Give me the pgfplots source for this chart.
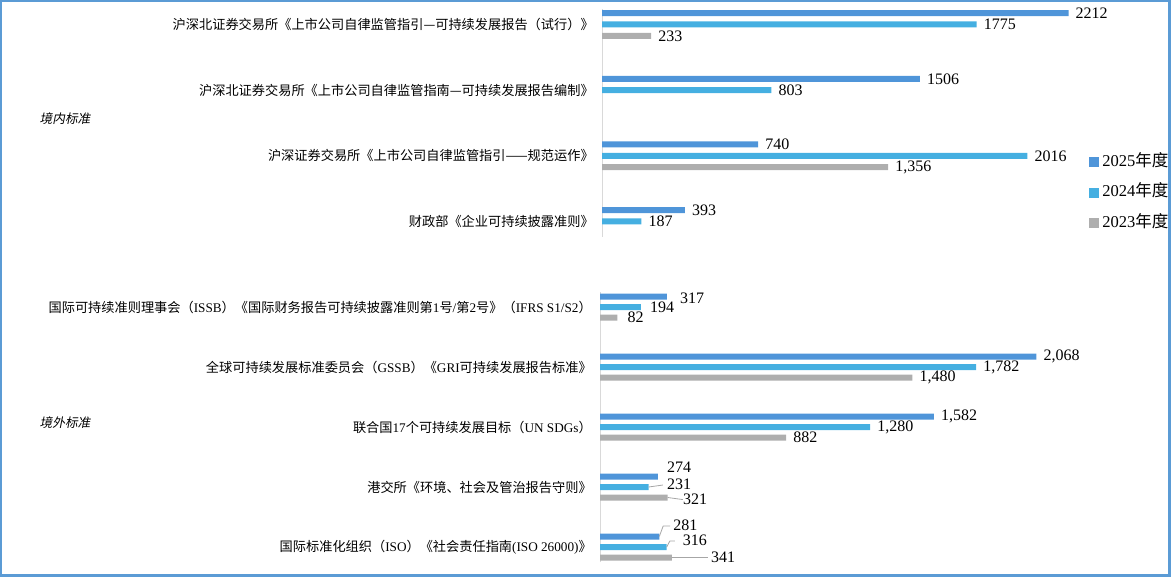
\documentclass[border=0pt]{standalone}
\usepackage{fontspec}
\setmainfont{Liberation Serif}
\newfontfamily\cjk{Noto Sans CJK SC}
\newfontfamily\cjkit[FakeSlant=0.2]{Noto Sans CJK SC}
\usepackage{pgfplots}
\usepackage{pgfplotstable}
\pgfplotsset{compat=1.18}
\newcommand\C[1]{{\cjk #1}}
\definecolor{c25}{RGB}{79,149,217}
\definecolor{c24}{RGB}{69,175,225}
\definecolor{c23}{RGB}{174,174,174}
\definecolor{frame}{RGB}{91,155,213}
\definecolor{axgray}{RGB}{217,217,217}
\definecolor{leader}{RGB}{166,166,166}

% top group: y=4 first category ... y=1 last
\pgfplotstableread{
x y lab dx dy
2212 4 2212 5.0 0
1506 3 1506 5.25 0
740 2 740 5.25 0
393 1 393 5.25 0
}\topA
\pgfplotstableread{
x y lab dx dy
1775 4 1775 5.25 0
803 3 803 5.25 0
2016 2 2016 5.25 0
187 1 187 5.25 0
}\topB
\pgfplotstableread{
x y lab dx dy
233 4 233 5.25 0
1356 2 1,356 5.25 0
}\topC
% bottom group: ISSB=5, GSSB=4, UN=3, HKEX=2, ISO=1
\pgfplotstableread{
x y lab dx dy
317 5 317 9.75 -1.2
2068 4 2,068 5.25 0
1582 3 1,582 5.25 0
274 2 274 6.75 7.1
281 1 281 10.3 8.6
}\botA
\pgfplotstableread{
x y lab dx dy
194 5 194 6.75 0
1782 4 1,782 5.25 0
1280 3 1,280 5.25 0
231 2 231 13.5 2.0
316 1 316 12 5.25
}\botB
\pgfplotstableread{
x y lab dx dy
82 5 82 7.5 0
1480 4 1,480 5.25 0
882 3 882 5.25 0
321 2 321 11.25 -1.2
341 1 341 29.25 0
}\botC

\pgfplotsset{
  mybars/.style={xbar, bar width=4.5pt, draw=none,
    legend image code/.code={\fill[##1,draw=none] (0pt,-3.75pt) rectangle (7.5pt,3.75pt);},
    nodes near coords, nodes near coords align={horizontal},
    point meta=explicit symbolic,
    visualization depends on={\thisrow{dx} \as \dx},
    visualization depends on={\thisrow{dy} \as \dy},
    every node near coord/.append style={anchor=west, inner sep=0pt,
      xshift=\dx pt, yshift=\dy pt, text=black,
      font=\fontsize{12pt}{13pt}\selectfont}},
  lshift/.style={bar shift=#1, every node near coord/.append style={yshift=#1}},
  myaxis/.style={scale only axis, width=411.45pt,
    xmin=0, xmax=2600, clip=false,
    axis x line=none, axis y line=left,
    y axis line style={-, draw=axgray, line width=0.75pt},
    major tick length=0pt, ytick style={draw=none},
    yticklabel style={font=\fontsize{9.9pt}{11pt}\selectfont, inner sep=0pt, xshift=-6pt, text=black},
    anchor=south west},
}

\begin{document}
\begin{tikzpicture}
\useasboundingbox (0pt,0pt) rectangle (879.75pt,433.5pt);
\draw[frame, line width=1.9pt] (0.75pt,1.9pt) rectangle (877.1pt,432.75pt);

\begin{axis}[myaxis, at={(451.5pt,255.75pt)}, height=171pt,
  ymin=0.764, ymax=4.236, ytick={1,2,3,4},
  yticklabels={
    {\C{财政部《企业可持续披露准则》}},
    {\C{沪深证券交易所《上市公司自律监管指引——规范运作》}},
    {\C{沪深北证券交易所《上市公司自律监管指南—可持续发展报告编制》}},
    {\C{沪深北证券交易所《上市公司自律监管指引—可持续发展报告（试行）》}}},
  legend cell align=left,
  legend style={draw=none, fill=none, at={(0.887,0.37)}, anchor=north west,
    font=\fontsize{12.4pt}{13pt}\selectfont, row sep=9.5pt, inner sep=0pt,
    nodes={inner xsep=2.6pt, inner ysep=1.5pt, text height=8.5pt, text depth=2pt}},
]
\addplot[mybars, fill=c25, lshift=8.5pt] table[x=x,y=y,meta=lab]{\topA};
\addplot[mybars, fill=c24, lshift=0pt] table[x=x,y=y,meta=lab]{\topB};
\addplot[mybars, fill=c23, lshift=-8.5pt] table[x=x,y=y,meta=lab]{\topC};
\legend{2025\C{年度},2024\C{年度},2023\C{年度}}
\end{axis}

\begin{axis}[myaxis, at={(450pt,12pt)}, height=202.5pt,
  ymin=0.75, ymax=5.25, ytick={1,2,3,4,5},
  yticklabels={
    {\C{国际标准化组织（}ISO\C{）《社会责任指南}(ISO 26000)\C{》}},
    {\C{港交所《环境、社会及管治报告守则》}},
    {\C{联合国}17\C{个可持续发展目标（}UN SDGs\C{）}},
    {\C{全球可持续发展标准委员会（}GSSB\C{）《}GRI\C{可持续发展报告标准》}},
    {\C{国际可持续准则理事会（}ISSB\C{）《国际财务报告可持续披露准则第}1\C{号}/\C{第}2\C{号》（}IFRS S1/S2\C{）}}},
]
\addplot[mybars, fill=c25, lshift=7.875pt] table[x=x,y=y,meta=lab]{\botA};
\addplot[mybars, fill=c24, lshift=0pt] table[x=x,y=y,meta=lab]{\botB};
\addplot[mybars, fill=c23, lshift=-7.875pt] table[x=x,y=y,meta=lab]{\botC};
% leader lines
\addplot[leader, line width=0.6pt, no marks, forget plot] coordinates {(231,2) (298,2.033)};
\addplot[leader, line width=0.6pt, no marks, forget plot] coordinates {(321,1.825) (393,1.79)};
\addplot[leader, line width=0.6pt, no marks, forget plot] coordinates {(281,1.175) (299.5,1.35) (332.7,1.35)};
\addplot[leader, line width=0.6pt, no marks, forget plot] coordinates {(316,1) (331,1.1) (355,1.1)};
\addplot[leader, line width=0.6pt, no marks, forget plot] coordinates {(341,0.825) (511,0.825)};
\end{axis}

\node[font=\cjkit\fontsize{9.5pt}{11pt}\selectfont] at (48.75pt,344.25pt) {境内标准};
\node[font=\cjkit\fontsize{9.5pt}{11pt}\selectfont] at (48.75pt,116.5pt) {境外标准};
\end{tikzpicture}
\end{document}
